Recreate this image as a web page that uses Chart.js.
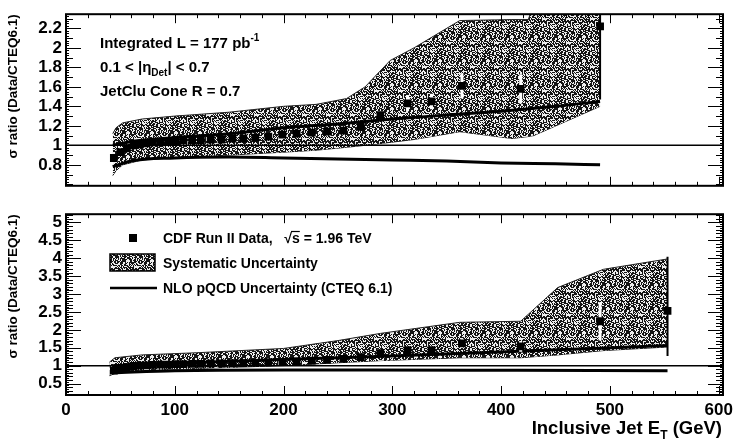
<!DOCTYPE html>
<html>
<head>
<meta charset="utf-8">
<script src="https://cdn.jsdelivr.net/npm/chart.js@4.4.1/dist/chart.umd.min.js"></script>
<style>
  html, body { margin: 0; padding: 0; background: #fff; }
  #wrap { position: relative; width: 739px; height: 441px; overflow: hidden; }
  canvas { position: absolute; left: 0; }
  #topChart { top: 0; }
  #botChart { top: 200px; }
</style>
</head>
<body>
<div id="wrap">
  <canvas id="topChart" width="739" height="200"></canvas>
  <canvas id="botChart" width="739" height="241"></canvas>
</div>
<script>
// ---- data: ratio Data / CTEQ6.1 vs inclusive jet ET (GeV) ----

// upper panel, 0.1 < |eta| < 0.7
const topEt    = [44, 50, 56, 62, 68, 74, 80, 87, 94, 101, 108, 116, 124, 133, 143, 153, 163, 174, 186, 199, 212, 226, 240, 255, 271, 289, 314, 336, 364, 418, 491];
const topRatio = [0.87, 0.93, 0.97, 1.0, 1.01, 1.02, 1.03, 1.03, 1.04, 1.04, 1.05, 1.05, 1.05, 1.06, 1.06, 1.07, 1.07, 1.08, 1.09, 1.11, 1.12, 1.13, 1.14, 1.15, 1.19, 1.31, 1.43, 1.45, 1.61, 1.58, 2.22];
const topErrLo = [0.01, 0.01, 0.01, 0.01, 0.01, 0.01, 0.01, 0.01, 0.01, 0.01, 0.01, 0.01, 0.01, 0.01, 0.01, 0.01, 0.01, 0.01, 0.01, 0.01, 0.01, 0.01, 0.02, 0.02, 0.03, 0.04, 0.08, 0.08, 0.13, 0.15, 0.75];
const topErrHi = [0.01, 0.01, 0.01, 0.01, 0.01, 0.01, 0.01, 0.01, 0.01, 0.01, 0.01, 0.01, 0.01, 0.01, 0.01, 0.01, 0.01, 0.01, 0.01, 0.01, 0.01, 0.01, 0.02, 0.02, 0.03, 0.04, 0.08, 0.08, 0.13, 0.15, 0.75];

const topBandEt = [43, 46, 52, 70, 100, 150, 200, 230, 258, 275, 298, 320, 362, 410, 425, 430, 491];
const topBandHi = [1.12, 1.18, 1.23, 1.27, 1.30, 1.34, 1.40, 1.42, 1.48, 1.60, 1.87, 2.00, 2.28, 2.29, 2.29, 2.45, 2.45];
const topBandLo = [0.69, 0.74, 0.80, 0.85, 0.875, 0.90, 0.93, 0.95, 0.98, 1.00, 1.03, 1.06, 1.14, 1.07, 1.09, 1.10, 1.40];

const topNloEt = [43, 60, 100, 150, 200, 250, 300, 350, 400, 450, 491];
const topNloHi = [1.0, 1.04, 1.08, 1.12, 1.18, 1.22, 1.27, 1.31, 1.35, 1.40, 1.45];
const topNloLo = [0.78, 0.84, 0.87, 0.88, 0.87, 0.86, 0.85, 0.84, 0.82, 0.81, 0.80];

// lower panel
const botEt    = [44, 50, 56, 62, 68, 74, 80, 87, 94, 101, 108, 116, 124, 133, 143, 153, 163, 174, 186, 199, 212, 226, 240, 255, 271, 289, 314, 336, 364, 418, 491, 553];
const botRatio = [0.86, 0.92, 0.96, 0.99, 1.0, 1.01, 1.02, 1.03, 1.03, 1.04, 1.04, 1.05, 1.05, 1.06, 1.06, 1.07, 1.07, 1.08, 1.09, 1.10, 1.12, 1.14, 1.16, 1.19, 1.24, 1.35, 1.43, 1.43, 1.62, 1.54, 2.24, 2.53];
const botErrLo = [0.01, 0.01, 0.01, 0.01, 0.01, 0.01, 0.01, 0.01, 0.01, 0.01, 0.01, 0.01, 0.01, 0.01, 0.01, 0.01, 0.01, 0.01, 0.01, 0.01, 0.01, 0.02, 0.02, 0.02, 0.03, 0.04, 0.08, 0.08, 0.13, 0.15, 0.54, 1.26];
const botErrHi = [0.01, 0.01, 0.01, 0.01, 0.01, 0.01, 0.01, 0.01, 0.01, 0.01, 0.01, 0.01, 0.01, 0.01, 0.01, 0.01, 0.01, 0.01, 0.01, 0.01, 0.01, 0.02, 0.02, 0.02, 0.03, 0.04, 0.08, 0.08, 0.13, 0.15, 0.53, 1.51];

const botBandEt = [40, 45, 70, 120, 200, 250, 289, 362, 418, 452, 494, 553];
const botBandHi = [1.10, 1.22, 1.30, 1.36, 1.48, 1.70, 1.90, 2.21, 2.24, 3.18, 3.69, 3.98];
const botBandLo = [0.72, 0.78, 0.87, 0.92, 1.00, 1.08, 1.14, 1.22, 1.22, 1.30, 1.42, 1.52];

const botNloEt = [43, 100, 200, 280, 415, 553];
const botNloHi = [1.0, 1.07, 1.17, 1.25, 1.40, 1.56];
const botNloLo = [0.80, 0.86, 0.88, 0.88, 0.87, 0.86];

// axis ticks
const xTicks   = [0, 100, 200, 300, 400, 500, 600];
const topTicks = [0.8, 1, 1.2, 1.4, 1.6, 1.8, 2, 2.2];
const botTicks = [0.5, 1, 1.5, 2, 2.5, 3, 3.5, 4, 4.5, 5];

const FONT = "'Liberation Sans', Arial, Helvetica, sans-serif";
Chart.defaults.font.family = FONT;
Chart.defaults.color = '#000';

const pts = (xs, ys) => xs.map((x, i) => ({ x: x, y: ys[i] }));

// grey stipple for the systematic band (fixed hash, 24px tile)
function makeStipple() {
  const n = 24;
  const c = document.createElement('canvas');
  c.width = n; c.height = n;
  const g = c.getContext('2d');
  g.fillStyle = '#eeeeee';
  g.fillRect(0, 0, n, n);
  g.fillStyle = '#151515';
  for (let y = 0; y < n; y++) {
    for (let x = 0; x < n; x++) {
      let h = (x * 374761393 + y * 668265263) | 0;
      h = Math.imul(h ^ (h >>> 13), 1274126177);
      h = (h ^ (h >>> 16)) >>> 0;
      if (h % 100 < 57) g.fillRect(x, y, 1, 1);
    }
  }
  return g.createPattern(c, 'repeat');
}
const stipple = makeStipple();

// frame with inward ticks on all four sides
function framePlugin(yMinor, yFine) {
  return {
    id: 'rootFrame',
    afterDraw(chart) {
      const { ctx, chartArea: a, scales: { x, y } } = chart;
      ctx.save();
      ctx.strokeStyle = '#000';
      ctx.lineWidth = 1;
      ctx.beginPath();
      for (let v = 0; v <= 600; v += 20) {
        const px = Math.round(x.getPixelForValue(v)) + 0.5;
        const len = v % 100 === 0 ? 9 : 4;
        ctx.moveTo(px, a.bottom); ctx.lineTo(px, a.bottom - len);
        ctx.moveTo(px, a.top); ctx.lineTo(px, a.top + len);
      }
      const k0 = Math.ceil(y.min / yFine), k1 = Math.floor(y.max / yFine);
      const per = Math.round(yMinor / yFine);
      const majors = y.ticks.map(t => t.value);
      for (let k = k0; k <= k1; k++) {
        const v = k * yFine;
        const py = Math.round(y.getPixelForValue(v)) + 0.5;
        let len = 3;
        if (k % per === 0) len = 7;
        if (majors.some(m => Math.abs(m - v) < yFine / 2)) len = 15;
        ctx.moveTo(a.left, py); ctx.lineTo(a.left + len, py);
        ctx.moveTo(a.right, py); ctx.lineTo(a.right - len, py);
      }
      ctx.stroke();
      ctx.lineWidth = 2;
      ctx.strokeRect(a.left, a.top, a.right - a.left, a.bottom - a.top);
      ctx.restore();
    }
  };
}

// vertical error bars on the data points (drawn under the markers)
function errorBarPlugin(lo, hi) {
  return {
    id: 'errBars',
    beforeDatasetDraw(chart, args) {
      if (args.index !== 0) return;
      const { ctx, chartArea: a, scales: { x, y } } = chart;
      const ds = chart.data.datasets[0].data;
      ctx.save();
      ctx.beginPath();
      ctx.rect(a.left, a.top, a.right - a.left, a.bottom - a.top);
      ctx.clip();
      ds.forEach((p, i) => {
        const px = x.getPixelForValue(p.x);
        const last = i === ds.length - 1;
        ctx.strokeStyle = last ? '#000' : '#fff';
        ctx.lineWidth = last ? 2 : 3;
        ctx.beginPath();
        ctx.moveTo(px, y.getPixelForValue(p.y - lo[i]));
        ctx.lineTo(px, y.getPixelForValue(p.y + hi[i]));
        ctx.stroke();
      });
      ctx.restore();
    }
  };
}

function yAxis(min, max, ticks) {
  return {
    type: 'linear',
    min: min, max: max,
    afterFit: s => { s.width = 66; },
    afterBuildTicks: s => { s.ticks = ticks.map(v => ({ value: v })); },
    grid: { display: false, drawTicks: false },
    border: { display: false },
    ticks: {
      padding: 4,
      autoSkip: false,
      font: { size: 17, weight: 'bold' },
      callback: v => String(parseFloat(v.toFixed(2)))
    },
    title: {
      display: true,
      text: 'σ ratio (Data/CTEQ6.1)',
      align: 'end',
      font: { size: 13.5, weight: 'bold' },
      padding: { top: 5, bottom: 0 }
    }
  };
}

function datasets(et, ratio, nloEt, nloHi, nloLo, bandEt, bandHi, bandLo) {
  return [
    { data: pts(et, ratio), showLine: false, pointStyle: 'rect', pointRadius: 5.5,
      pointBackgroundColor: '#000', pointBorderWidth: 0 },
    { data: pts(nloEt, nloHi), borderColor: '#000', borderWidth: 3, pointRadius: 0,
      cubicInterpolationMode: 'monotone' },
    { data: pts(nloEt, nloLo), borderColor: '#000', borderWidth: 3, pointRadius: 0,
      cubicInterpolationMode: 'monotone' },
    { data: [{ x: 0, y: 1 }, { x: 604, y: 1 }], borderColor: '#000', borderWidth: 1.5, pointRadius: 0 },
    { data: pts(bandEt, bandHi), borderColor: '#222', borderWidth: 1, pointRadius: 0,
      fill: '+1', backgroundColor: stipple },
    { data: pts(bandEt, bandLo), borderColor: '#222', borderWidth: 1, pointRadius: 0, fill: false }
  ];
}

// text drawn with a sub/superscript piece
function drawParts(ctx, x, y, parts) {
  parts.forEach(p => {
    ctx.font = 'bold ' + p.size + 'px ' + FONT;
    ctx.fillText(p.t, x, y + (p.dy || 0));
    x += ctx.measureText(p.t).width;
  });
  return x;
}

const topNotes = {
  id: 'topNotes',
  afterDraw(chart) {
    const ctx = chart.ctx;
    ctx.save();
    ctx.fillStyle = '#000';
    ctx.textBaseline = 'alphabetic';
    drawParts(ctx, 100, 48, [{ t: 'Integrated L = 177 pb', size: 15 }, { t: '-1', size: 10, dy: -7 }]);
    drawParts(ctx, 100, 72, [{ t: '0.1 < |η', size: 15 }, { t: 'Det', size: 10, dy: 4 }, { t: '| < 0.7', size: 15 }]);
    drawParts(ctx, 100, 96, [{ t: 'JetClu Cone R = 0.7', size: 15 }]);
    ctx.restore();
  }
};

const botNotes = {
  id: 'botNotes',
  afterDraw(chart) {
    const ctx = chart.ctx;
    ctx.save();
    ctx.fillStyle = '#000';
    ctx.strokeStyle = '#000';
    // legend
    ctx.fillRect(129, 34, 8, 8);
    ctx.fillStyle = stipple;
    ctx.fillRect(110, 54, 45, 17);
    ctx.lineWidth = 1.5;
    ctx.strokeRect(110, 54, 45, 17);
    ctx.lineWidth = 2.5;
    ctx.beginPath(); ctx.moveTo(110, 88); ctx.lineTo(157, 88); ctx.stroke();
    ctx.fillStyle = '#000';
    let x = drawParts(ctx, 163, 43, [{ t: 'CDF Run II Data,   ', size: 14 }]);
    ctx.font = 'bold 14px ' + FONT;
    const wr = ctx.measureText('√').width;
    const ws = ctx.measureText('s').width;
    drawParts(ctx, x, 43, [{ t: '√s = 1.96 TeV', size: 14 }]);
    ctx.lineWidth = 1.2;
    ctx.beginPath(); ctx.moveTo(x + wr - 1, 31.5); ctx.lineTo(x + wr + ws, 31.5); ctx.stroke();
    drawParts(ctx, 163, 68, [{ t: 'Systematic Uncertainty', size: 14 }]);
    drawParts(ctx, 163, 93, [{ t: 'NLO pQCD Uncertainty (CTEQ 6.1)', size: 14 }]);
    // x axis title, right aligned
    const parts = [{ t: 'Inclusive Jet E', size: 18.5 }, { t: 'T', size: 12, dy: 5 }, { t: ' (GeV)', size: 18.5 }];
    let w = 0;
    parts.forEach(p => { ctx.font = 'bold ' + p.size + 'px ' + FONT; w += ctx.measureText(p.t).width; });
    drawParts(ctx, 722 - w, 234, parts);
    ctx.restore();
  }
};

function baseOptions(padTop, xHeight, showX, yMin, yMax, yTicks) {
  return {
    animation: false,
    responsive: false,
    layout: { padding: { top: padTop, right: 16, left: 0, bottom: 0 } },
    plugins: { legend: { display: false }, tooltip: { enabled: false } },
    scales: {
      x: {
        type: 'linear', min: 0, max: 604,
        afterFit: s => { s.height = xHeight; },
        afterBuildTicks: s => { s.ticks = xTicks.map(v => ({ value: v })); },
        grid: { display: false, drawTicks: false },
        border: { display: false },
        ticks: { display: showX, padding: 5, maxRotation: 0, autoSkip: false,
                 font: { size: 17, weight: 'bold' } }
      },
      y: yAxis(yMin, yMax, yTicks)
    }
  };
}

new Chart(document.getElementById('topChart'), {
  type: 'line',
  data: { datasets: datasets(topEt, topRatio, topNloEt, topNloHi, topNloLo, topBandEt, topBandHi, topBandLo) },
  options: baseOptions(10, 8, false, 0.585, 2.345, topTicks),
  plugins: [errorBarPlugin(topErrLo, topErrHi), framePlugin(0.1, 0.025), topNotes]
});

new Chart(document.getElementById('botChart'), {
  type: 'line',
  data: { datasets: datasets(botEt, botRatio, botNloEt, botNloHi, botNloLo, botBandEt, botBandHi, botBandLo) },
  options: baseOptions(8, 46, true, 0.18, 5.23, botTicks),
  plugins: [errorBarPlugin(botErrLo, botErrHi), framePlugin(0.1, 0.05), botNotes]
});
</script>
</body>
</html>
